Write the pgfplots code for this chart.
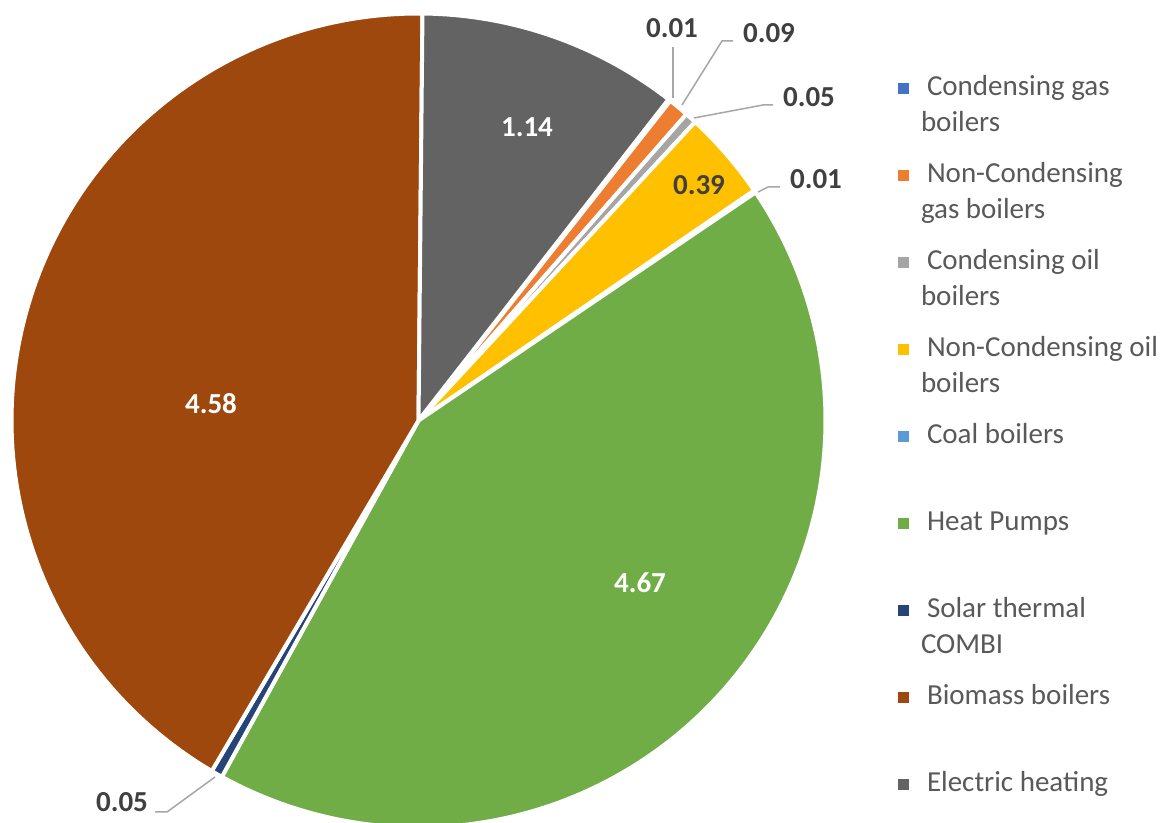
\documentclass[border=0pt]{standalone}
\usepackage{fontspec}
\setmainfont{Carlito}
\usepackage{pgfplots}
\usepackage{pgfplotstable}
\pgfplotsset{compat=1.18}
\definecolor{c0}{HTML}{4472C4}
\definecolor{c1}{HTML}{ED7D31}
\definecolor{c2}{HTML}{A5A5A5}
\definecolor{c3}{HTML}{FFC000}
\definecolor{c4}{HTML}{5B9BD5}
\definecolor{c5}{HTML}{70AD47}
\definecolor{c6}{HTML}{264478}
\definecolor{c7}{HTML}{9E480E}
\definecolor{c8}{HTML}{636363}
\definecolor{lbl}{HTML}{404040}
\definecolor{leg}{HTML}{595959}
\definecolor{lead}{HTML}{A6A6A6}

\pgfplotstableread{
idx value
0 0.01
1 0.09
2 0.05
3 0.39
4 0.01
5 4.67
6 0.05
7 4.58
8 1.14
}\piedata

\def\firstangle{37.9}
\def\cx{418.5}
\def\cy{402.5}
\def\rad{407}

\pgfmathsetmacro\pietotal{0}
\pgfplotsforeachungrouped \i in {0,...,8}{%
  \pgfplotstablegetelem{\i}{value}\of\piedata
  \pgfmathsetmacro\pietotal{\pietotal+\pgfplotsretval}%
}
\def\piecum{0}
\pgfplotsforeachungrouped \i in {0,...,8}{%
  \pgfplotstablegetelem{\i}{value}\of\piedata
  \pgfmathsetmacro\pieStart{90-\firstangle-\piecum/\pietotal*360}%
  \pgfmathsetmacro\piecum{\piecum+\pgfplotsretval}%
  \pgfmathsetmacro\pieEnd{90-\firstangle-\piecum/\pietotal*360}%
  \expandafter\xdef\csname pieA\i\endcsname{\pieStart}%
  \expandafter\xdef\csname pieB\i\endcsname{\pieEnd}%
}

\newcommand\LE[1]{\parbox[t]{130pt}{\strut\hspace{3pt}#1}}
\newcommand\lblfont{\bfseries\fontsize{14.5}{18}\selectfont}

\begin{document}
\begin{tikzpicture}
\begin{axis}[
  width=586pt, height=411.5pt, scale only axis,
  xmin=0, xmax=1172, ymin=0, ymax=823,
  hide axis,
  legend image code/.code={%
    \fill[#1, draw=none] (0pt,-11.85pt) rectangle (5.5pt,-6.35pt);
    \path (0pt,0pt) (0pt,-41.55pt);
  },
  legend style={
    at={(0.7645,0.9176)}, anchor=north west,
    draw=none, fill=none, inner sep=0pt, outer sep=0pt,
    row sep=0pt, column sep=6pt,
    nodes={inner sep=0pt, outer sep=0pt},
    cells={anchor=north west},
    font=\fontsize{14.5}{18}\selectfont, text=leg,
  },
]
\pgfplotsinvokeforeach{0,...,8}{%
  \addplot[fill=c#1, draw=white, line width=2pt, line join=round,
    domain=\csname pieB#1\endcsname:\csname pieA#1\endcsname,
    samples=120, variable=\t]
    ({\cx+\rad*cos(\t)},{\cy+\rad*sin(\t)}) -- (axis cs:\cx,\cy) -- cycle;
}
\legend{{\LE{Condensing gas\newline boilers}},
  {\LE{Non-Condensing\newline gas boilers}},
  {\LE{Condensing oil\newline boilers}},
  {\LE{Non-Condensing oil\newline boilers}},
  {\LE{Coal boilers}},
  {\LE{Heat Pumps}},
  {\LE{Solar thermal\newline COMBI}},
  {\LE{Biomass boilers}},
  {\LE{Electric heating}}}

\addplot[lead, line width=0.75pt, forget plot] coordinates {(673,725) (673,776)};
\addplot[lead, line width=0.75pt, forget plot] coordinates {(682,718) (722,782) (733,782)};
\addplot[lead, line width=0.75pt, forget plot] coordinates {(694,705) (763,718) (773,718)};
\addplot[lead, line width=0.75pt, forget plot] coordinates {(758,631) (768,636) (780,636)};
\addplot[lead, line width=0.75pt, forget plot] coordinates {(215,46) (167,11) (155,11)};

\node[font=\lblfont, text=white] at (axis cs:527,696) {1.14};
\node[font=\lblfont, text=lbl] at (axis cs:699,638) {0.39};
\node[font=\lblfont, text=white] at (axis cs:640,240) {4.67};
\node[font=\lblfont, text=white] at (axis cs:211,419) {4.58};
\node[font=\lblfont, text=lbl] at (axis cs:672,795) {0.01};
\node[font=\lblfont, text=lbl] at (axis cs:769,790) {0.09};
\node[font=\lblfont, text=lbl] at (axis cs:809,726) {0.05};
\node[font=\lblfont, text=lbl] at (axis cs:816,644) {0.01};
\node[font=\lblfont, text=lbl] at (axis cs:122,21) {0.05};
\end{axis}
\pgfresetboundingbox
\useasboundingbox (current axis.south west) rectangle (current axis.north east);
\end{tikzpicture}
\end{document}
